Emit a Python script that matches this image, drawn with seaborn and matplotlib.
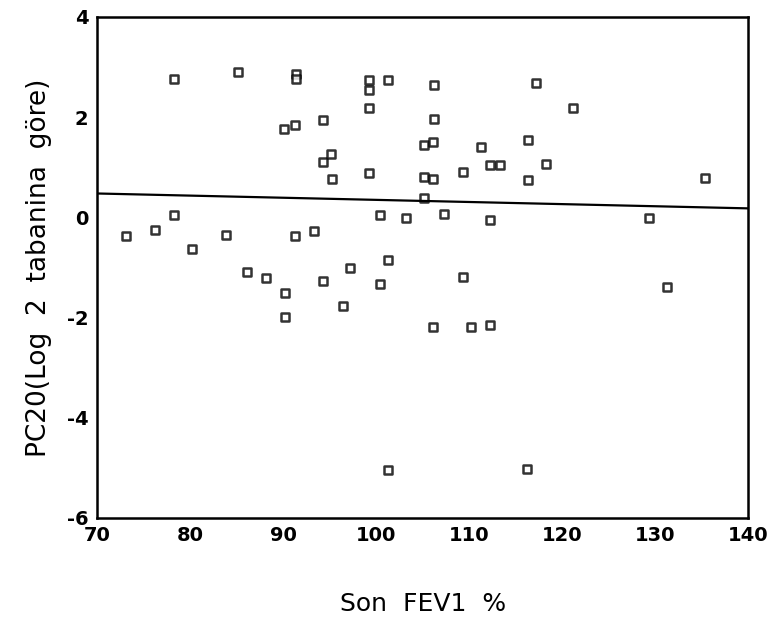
import matplotlib
matplotlib.use("Agg")
import matplotlib.pyplot as plt
import seaborn as sns
import pandas as pd

fev1 = [73.1, 76.2, 78.3, 78.3, 80.2, 83.9, 85.2, 86.1, 88.2, 90.1, 90.2, 90.2,
        91.3, 91.4, 91.4, 91.3, 93.3, 94.3, 94.3, 94.3, 95.2, 95.3, 96.4, 97.2,
        99.2, 99.2, 99.2, 99.2, 100.4, 100.4, 101.3, 101.3, 101.3, 103.2,
        105.2, 105.2, 105.2, 106.1, 106.1, 106.2, 106.2, 106.1, 107.3,
        109.3, 109.3, 110.2, 111.3, 112.3, 112.3, 112.2, 113.3, 116.3, 116.3,
        116.2, 117.2, 118.3, 121.2, 129.3, 131.3, 135.3]
pc20 = [-0.37, -0.26, 2.75, 0.04, -0.63, -0.36, 2.90, -1.10, -1.21, 1.77, -1.51, -1.99,
        1.84, 2.86, 2.76, -0.37, -0.28, 1.95, 1.10, -1.27, 1.27, 0.77, -1.77, -1.01,
        2.73, 2.54, 2.18, 0.89, 0.05, -1.33, 2.73, -0.86, -5.05, -0.02,
        1.45, 0.81, 0.38, 1.51, 0.77, 2.63, 1.96, -2.18, 0.07,
        0.90, -1.19, -2.18, 1.41, 1.05, -0.06, -2.15, 1.05, 1.55, 0.74,
        -5.03, 2.68, 1.06, 2.19, -0.02, -1.39, 0.78]

x_ticks = [70, 80, 90, 100, 110, 120, 130, 140]
y_ticks = [-6, -4, -2, 0, 2, 4]

df = pd.DataFrame({"fev1": fev1, "pc20": pc20})

sns.set_style("white")
plt.rcParams["font.family"] = ["DejaVu Sans"]
plt.rcParams["text.color"] = "black"
plt.rcParams["axes.labelcolor"] = "black"
plt.rcParams["xtick.color"] = "black"
plt.rcParams["ytick.color"] = "black"

fig = plt.figure(figsize=(7.69, 6.24), dpi=100)
ax = fig.add_axes([0.126, 0.170, 0.847, 0.803])
ax.set_xlim(70, 140)
ax.set_ylim(-6, 4)

sns.regplot(data=df, x="fev1", y="pc20", ax=ax, ci=None, truncate=False,
            marker="s",
            scatter_kws=dict(s=28, facecolors="white", edgecolors="black", linewidths=1.8),
            line_kws=dict(color="black", linewidth=1.6))

ax.set_xlim(70, 140)
ax.set_ylim(-6, 4)
ax.set_xticks(x_ticks)
ax.set_yticks(y_ticks)
ax.set_xticklabels([str(t) for t in x_ticks])
ax.set_yticklabels([str(t) for t in y_ticks])
ax.tick_params(axis="both", direction="out", length=4, width=2.5, color="black",
               labelcolor="black", labelsize=14, pad=2)
for lab in ax.get_xticklabels() + ax.get_yticklabels():
    lab.set_fontweight("bold")
for sp in ax.spines.values():
    sp.set_visible(True)
    sp.set_color("black")
    sp.set_linewidth(1.8)

ax.set_xlabel("Son  FEV1  %", fontsize=18, color="black", labelpad=34)
ax.set_ylabel("PC20(Log  2  tabanina  göre)", fontsize=19, color="black", labelpad=11)

fig.savefig("out.png", dpi=100)
